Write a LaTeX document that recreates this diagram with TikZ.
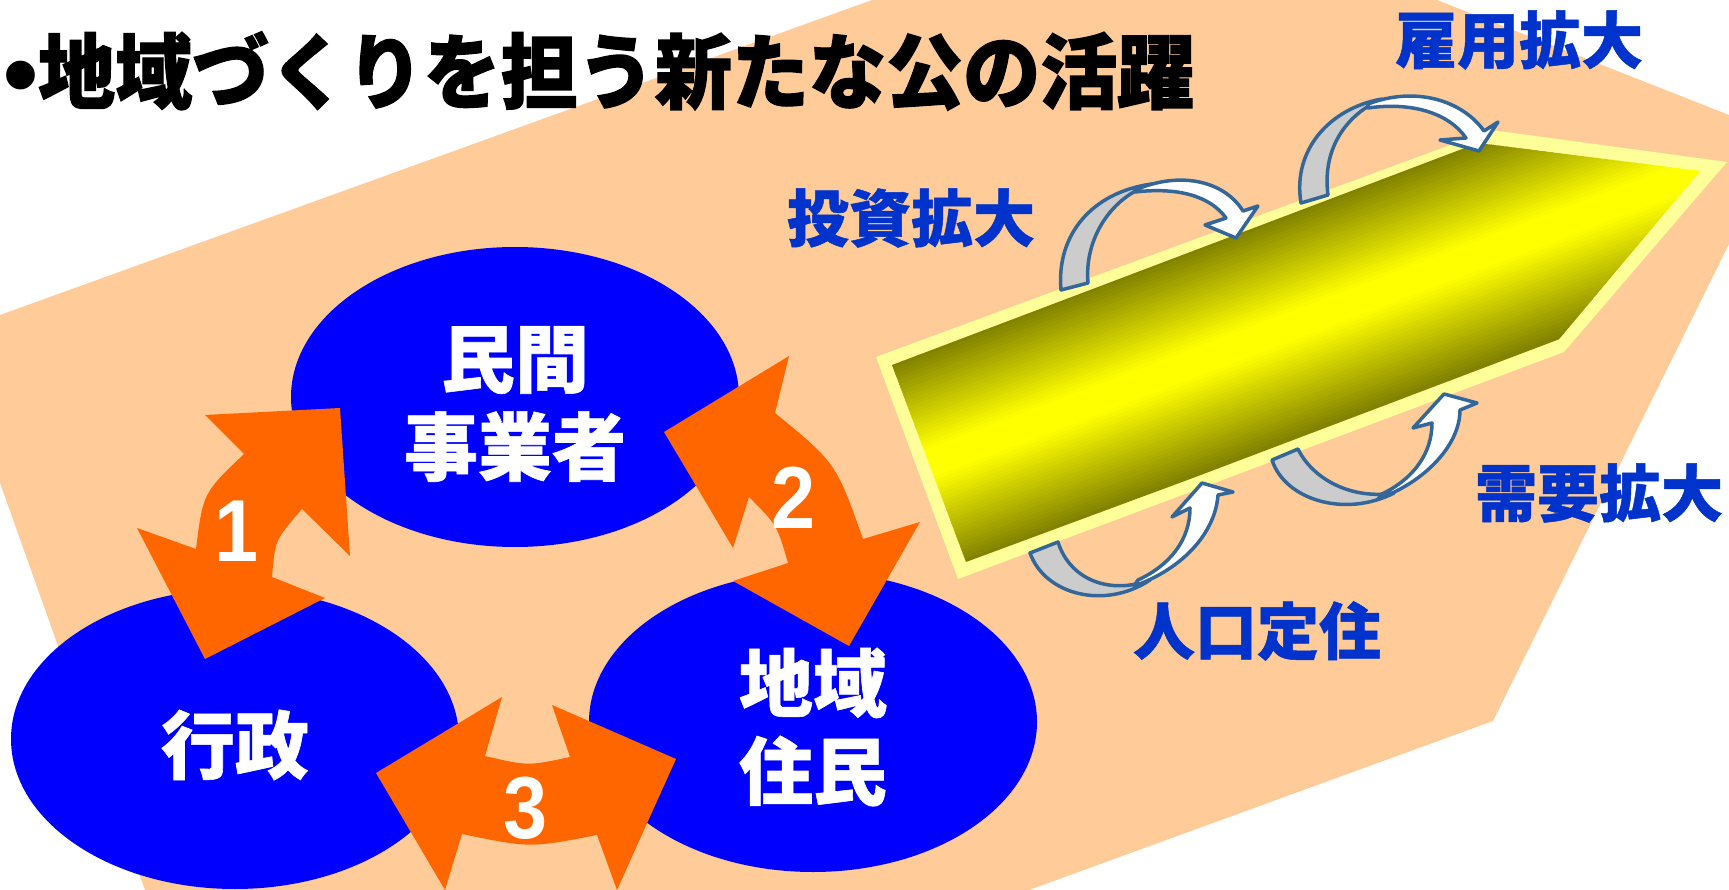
\documentclass[tikz,border=0pt]{standalone}
\usepackage{fontspec}
\usetikzlibrary{shapes.geometric}
\newfontfamily\jp{Noto Sans CJK JP}[FakeBold=0.8]
\newfontfamily\jptitle{Noto Sans CJK JP}[FakeStretch=0.94, FakeBold=1.5]
\newfontfamily\lib{Liberation Sans}[FakeStretch=0.9]
\newfontfamily\libdot{Liberation Sans}
\definecolor{peach}{HTML}{FFCC99}
\definecolor{blobc}{HTML}{0000FF}
\definecolor{orng}{HTML}{FF6600}
\definecolor{lblue}{HTML}{0033CC}
\definecolor{olv}{HTML}{808000}
\definecolor{yel}{HTML}{FFFF00}
\definecolor{pale}{HTML}{FFFF99}
\definecolor{steel}{HTML}{336699}
\definecolor{lgray}{HTML}{CCCCCC}
\begin{document}
\begin{tikzpicture}[x=1pt,y=-1pt,
  blob/.style={ellipse, fill=blobc, minimum width=448pt, minimum height=300pt, inner sep=0pt},
  intext/.style={text=white, font=\jp\bfseries\fontsize{74}{88}\selectfont, align=center, inner sep=0pt},
  numtext/.style={text=white, font=\lib\bfseries\fontsize{88}{88}\selectfont, inner sep=0pt},
  bluelabel/.style={text=lblue, font=\jp\bfseries\fontsize{62}{62}\selectfont, inner sep=0pt},
  bigarrow/.style={fill=orng},
  backpart/.style={fill=lgray, draw=steel, line width=3.5pt, line join=round},
  frontpart/.style={fill=white, draw=steel, line width=3.5pt, line join=round}]
\useasboundingbox (0,0) rectangle (1729,890);
\fill[white] (0,0) rectangle (1729,890);
% peach background
\fill[peach] (872,0) -- (1437,0) -- (1729,115) -- (1729,244) -- (1493,721) -- (1029,890)
  -- (145,890) -- (0,483) -- (0,315) -- cycle;
% title
\node[anchor=west, inner sep=0pt, font=\jptitle\bfseries\fontsize{82}{82}\selectfont] (title) at (3,71)
  {{\libdot\bfseries\fontsize{100}{100}\selectfont\raisebox{-6pt}{•}}地域づくりを担う新たな公の活躍};
% ellipses
\node[blob] (min) at (515,397) {};
\node[blob] (gyo) at (235,739) {};
\node[blob] (chi) at (813,722) {};
% orange arrows
\fill[bigarrow] (196,549) -- (137,528) -- (205,659) -- (325,598) -- (272,577)
  .. controls (275,540) .. (302,509) -- (350,556) -- (340,408) -- (205,415) -- (244,454)
  .. controls (203,493) .. (196,549) -- cycle;
\fill[bigarrow] (664,432) -- (789,356) -- (775,413) .. controls (836,463) .. (863,539)
  -- (920,522) -- (849,646) -- (733,581) -- (788,563) .. controls (777,525) .. (749,497)
  -- (733,548) -- cycle;
\fill[bigarrow] (376,773) -- (502,697) -- (485,756) .. controls (528,766) .. (570,757)
  -- (552,705) -- (676,759) -- (617,890) -- (597,835) .. controls (530,848) .. (462,834)
  -- (445,890) -- cycle;
% texts in ellipses
\node[intext] (mint) at (515,404) {民間\\事業者};
\node[intext] (gyot) at (235,745) {行政};
\node[intext] (chit) at (813,727) {地域\\住民};
% numbers
\node[numtext] (n1) at (237,531) {1};
\node[numtext] (n2) at (794,498) {2};
\node[numtext] (n3) at (526,808) {3};
% yellow band
\fill[pale] (876,357) -- (1491,130) -- (1727,162) -- (1564,352) -- (958,579) -- cycle;
\begin{scope}
\clip (892,365) -- (1478,143) -- (1700,171) -- (1555,344) -- (966,562) -- cycle;
\begin{scope}[shift={(929,463.5)}, rotate=20.75]
\foreach \i in {0,...,59}{
  \pgfmathsetmacro\pp{100*min(1,1.15*(1-abs(2*(\i+0.5)/60-1)))}
  \fill[yel!\pp!olv] (-80,{-106+\i*212/60}) rectangle (950,{-106+(\i+1.3)*212/60});
}
\end{scope}
\end{scope}
% curved arrows
% investment
\draw[backpart] (1061,290) .. controls (1056,235) and (1092,192) .. (1152,184)
  .. controls (1112,196) and (1084,238) .. (1088,283) -- cycle;
\draw[frontpart] (1135,190) .. controls (1182,170) and (1225,182) .. (1243,211) -- (1258,206)
  -- (1236,238) -- (1205,225) -- (1226,218) .. controls (1210,196) and (1178,187) .. (1135,192) -- cycle;
% employment
\draw[backpart] (1301,203) .. controls (1292,150) and (1330,108) .. (1382,99)
  .. controls (1345,115) and (1322,150) .. (1328,195) -- cycle;
\draw[frontpart] (1368,104) .. controls (1415,86) and (1462,100) .. (1484,131) -- (1498,122)
  -- (1479,151) -- (1440,140) -- (1466,138) .. controls (1448,112) and (1410,102) .. (1368,108) -- cycle;
% demand
\draw[backpart] (1272,460) .. controls (1285,500) and (1345,518) .. (1394,493)
  .. controls (1350,500) and (1312,478) .. (1298,449) -- cycle;
\draw[frontpart] (1378,499) .. controls (1425,482) and (1460,445) .. (1460,410) -- (1477,403)
  -- (1444,394) -- (1413,428) -- (1432,423) .. controls (1432,452) and (1415,478) .. (1382,494) -- cycle;
% population
\draw[backpart] (1030,553) .. controls (1045,595) and (1105,610) .. (1150,580)
  .. controls (1110,595) and (1070,580) .. (1058,542) -- cycle;
\draw[frontpart] (1134,586) .. controls (1180,570) and (1215,535) .. (1218,495) -- (1233,492)
  -- (1202,483) -- (1172,517) -- (1190,508) .. controls (1190,540) and (1170,565) .. (1138,580) -- cycle;
% blue labels
\node[bluelabel] (koyo) at (1519,40) {雇用拡大};
\node[bluelabel] (toshi) at (911,218) {投資拡大};
\node[bluelabel] (juyo) at (1599,493) {需要拡大};
\node[bluelabel] (jinko) at (1257,631) {人口定住};
\end{tikzpicture}
\end{document}
